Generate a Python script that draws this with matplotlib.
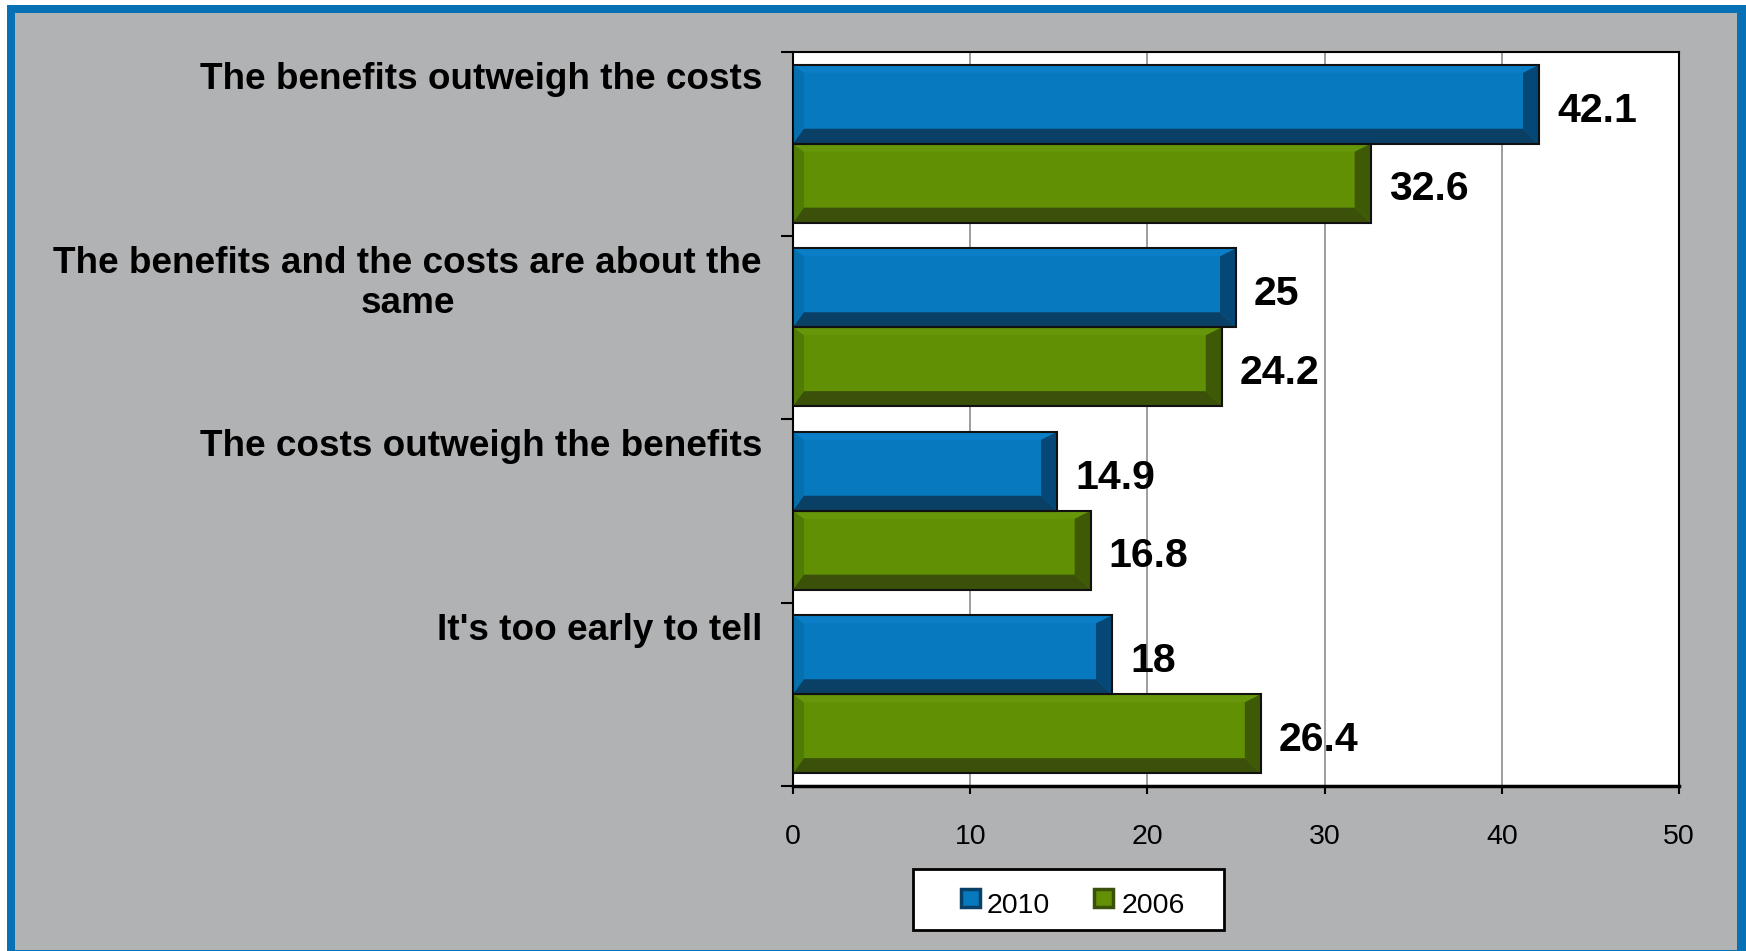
import matplotlib
matplotlib.use("Agg")
import matplotlib.pyplot as plt
from matplotlib.patches import Polygon, Rectangle

categories = [
    "The benefits outweigh the costs",
    "The benefits and the costs are about the\nsame",
    "The costs outweigh the benefits",
    "It's too early to tell",
]
years = ["2010", "2006"]
values_2010 = [42.1, 25, 14.9, 18]
values_2006 = [32.6, 24.2, 16.8, 26.4]
x_ticks = [0, 10, 20, 30, 40, 50]

# colours: main face, left, top, right, bottom bevel
BLUE = ["#0679BF", "#0570AD", "#0A7EC6", "#054878", "#0B4066"]
GREEN = ["#619005", "#4F7C05", "#66960A", "#3F5A06", "#3B510A"]

plt.rcParams["font.family"] = ["Liberation Sans", "DejaVu Sans"]

W, H = 1746, 951
fig = plt.figure(figsize=(W / 100, H / 100), dpi=100)
fig.patch.set_facecolor("white")

# blue frame + grey panel (behind the axes)
fig.patches.append(Rectangle((7 / W, 0), 1 - 7 / W, (H - 5) / H,
                             transform=fig.transFigure, facecolor="#0871B6",
                             edgecolor="none", zorder=-2))
fig.patches.append(Rectangle((15 / W, 1 / H), (1737 - 15) / W, (950 - 13) / H,
                             transform=fig.transFigure, facecolor="#B1B2B4",
                             edgecolor="none", zorder=-1))

ax_l, ax_r, ax_t, ax_b = 793, 1679, 52, 786
ax = fig.add_axes([ax_l / W, 1 - ax_b / H, (ax_r - ax_l) / W, (ax_b - ax_t) / H])
ax.set_facecolor("white")

n = len(categories)
ax.set_xlim(0, 50)
ax.set_ylim(n - 0.5, -0.5)

px_x = (ax_r - ax_l) / 50.0
px_y = (ax_b - ax_t) / float(n)

bar_h = 0.43
pos = list(range(n))
bars_a = ax.barh([p - bar_h / 2 for p in pos], values_2010, height=bar_h,
                 color=BLUE[0], edgecolor="none", zorder=2)
bars_b = ax.barh([p + bar_h / 2 for p in pos], values_2006, height=bar_h,
                 color=GREEN[0], edgecolor="none", zorder=2)


def bevel(bar, cols):
    x0 = bar.get_x()
    x1 = x0 + bar.get_width()
    yt = bar.get_y()
    yb = yt + bar.get_height()
    dl, dr = 11 / px_x, 16 / px_x
    dt, db = 8 / px_y, 15 / px_y
    shapes = [
        (cols[1], [(x0, yt), (x0, yb), (x0 + dl, yb - db), (x0 + dl, yt + dt)]),
        (cols[2], [(x0, yt), (x1, yt), (x1 - dr, yt + dt), (x0 + dl, yt + dt)]),
        (cols[3], [(x1, yt), (x1, yb), (x1 - dr, yb - db), (x1 - dr, yt + dt)]),
        (cols[4], [(x0, yb), (x1, yb), (x1 - dr, yb - db), (x0 + dl, yb - db)]),
    ]
    for c, pts in shapes:
        ax.add_patch(Polygon(pts, closed=True, facecolor=c, edgecolor="none", zorder=3))
    ax.add_patch(Rectangle((x0, yt), x1 - x0, yb - yt, fill=False,
                           edgecolor="#111111", linewidth=1.5, zorder=4))


for b in bars_a:
    bevel(b, BLUE)
for b in bars_b:
    bevel(b, GREEN)

for bars, vals in [(bars_a, values_2010), (bars_b, values_2006)]:
    for b, v in zip(bars, vals):
        ax.annotate(f"{v:g}", (v, b.get_y() + b.get_height() / 2),
                    xytext=(13, -4.5), textcoords="offset points",
                    ha="left", va="center", fontsize=29.5, fontweight="bold",
                    color="black", zorder=5)

# axes styling
ax.set_xticks(x_ticks)
ax.set_xticklabels([str(t) for t in x_ticks])
ax.set_yticks([p - 0.5 for p in range(n + 1)])
ax.set_yticklabels([])
ax.tick_params(axis="x", direction="out", length=5.8, width=1.5,
               labelsize=20.5, pad=21.5, colors="black")
ax.tick_params(axis="y", direction="out", length=8.6, width=1.5)
ax.xaxis.grid(True, color="#8C8C8C", linewidth=1.2)
ax.set_axisbelow(True)
for side in ["top", "right", "left"]:
    ax.spines[side].set_linewidth(1.5)
    ax.spines[side].set_color("black")
ax.spines["bottom"].set_linewidth(2.5)

ytr = ax.get_yaxis_transform()
for p, lab in zip(pos, categories):
    ax.text(-0.035, p - 0.5 + 0.055, lab, transform=ytr, ha="right", va="top",
            multialignment="center", fontsize=26.6, fontweight="bold",
            linespacing=1.2, clip_on=False)

# legend box
fig.patches.append(Rectangle((913 / W, 1 - 930 / H), 311 / W, 61 / H,
                             transform=fig.transFigure, facecolor="white",
                             edgecolor="black", linewidth=2, zorder=5))
for (sx, tx), cols, lab in zip([(961, 987), (1094, 1122)], [BLUE, GREEN], years):
    fig.patches.append(Rectangle((sx / W, 1 - 907 / H), 19 / W, 18 / H,
                                 transform=fig.transFigure, facecolor=cols[0],
                                 edgecolor=cols[4], linewidth=2.5, zorder=6))
    fig.text(tx / W, 1 - 906 / H, lab, fontsize=20.5, ha="left", va="center",
             color="black", zorder=7)

fig.savefig("out.png", dpi=100, facecolor=fig.get_facecolor())
